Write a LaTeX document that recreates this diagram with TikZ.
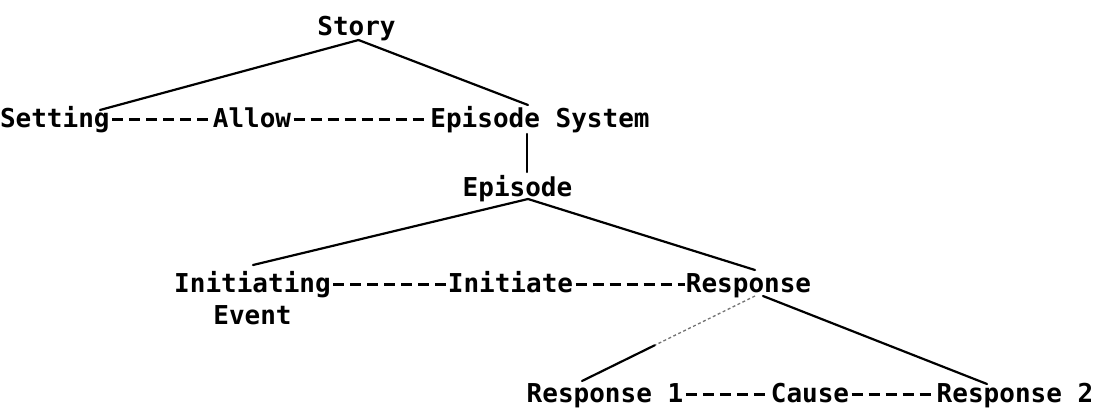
\documentclass[tikz,border=0pt]{standalone}
\usepackage{fontspec}
\newfontfamily\treefont{DejaVu Sans Mono}
\usetikzlibrary{calc}
\tikzset{
  word/.style={inner sep=0pt, outer sep=0pt, anchor=base,
    font=\treefont\bfseries\fontsize{26}{32}\selectfont},
  branch/.style={line width=2.2pt, line cap=round},
  worn/.style={line width=1.3pt, black!55, dash pattern=on 3pt off 2.5pt},
  relation/.style={line width=3pt, dash pattern=on 11pt off 6pt},
}
\begin{document}
\begin{tikzpicture}[x=1pt,y=-1pt]
\useasboundingbox (0,0) rectangle (1095,410);

% story grammar nodes
\node[word] (story)    at (356.5,35)  {Story};
\node[word, anchor=base west] (setting) at (0,127) {Setting};
\node[word] (allow)    at (252,127)   {Allow};
\node[word] (epsys)    at (540,127)   {Episode System};
\node[word] (episode)  at (517.5,196) {Episode};
\node[word] (initing)  at (252.5,292) {Initiating};
\node[word] (event)    at (252.5,324) {Event};
\node[word] (initiate) at (510.5,292) {Initiate};
\node[word] (resp)     at (748.5,292) {Response};
\node[word] (respA)    at (605,402)   {Response 1};
\node[word] (cause)    at (810,402)   {Cause};
\node[word] (respB)    at (1015,402)  {Response 2};

% constituent branches
\draw[branch] ($(story.base)+(2,5)$) -- ($(setting.base west)+(100,-17)$);
\draw[branch] ($(story.base)+(2,5)$) -- ($(epsys.base)+(-12,-22)$);
\draw[branch] ($(epsys.base)+(-13,7)$) -- ($(episode.base)+(9.5,-24)$);
\draw[branch] ($(episode.base)+(10.5,3)$) -- ($(initing.base)+(0.5,-27)$);
\draw[branch] ($(episode.base)+(10.5,3)$) -- ($(resp.base)+(6.5,-22)$);
\coordinate (respfoot) at ($(resp.base)+(6.5,4)$);
\coordinate (respAtop) at ($(respA.base)+(-23,-21)$);
\draw[worn] (respfoot) -- ($(respfoot)!0.58!(respAtop)$);
\draw[branch] ($(respfoot)!0.58!(respAtop)$) -- (respAtop);
\draw[branch] ($(resp.base)+(14.5,4)$) -- ($(respB.base)+(-28,-18)$);

% semantic relations between siblings
\draw[relation] ($(setting.base east)+(2.5,-7.5)$) -- ($(allow.base west)+(-1,-7.5)$);
\draw[relation] ($(allow.base east)+(2.5,-7.5)$) -- ($(epsys.base west)+(-1,-7.5)$);
\draw[relation] ($(initing.base east)+(2.5,-7.5)$) -- ($(initiate.base west)+(-1,-7.5)$);
\draw[relation] ($(initiate.base east)+(2.5,-7.5)$) -- ($(resp.base west)+(-1,-7.5)$);
\draw[relation] ($(respA.base east)+(2.5,-7.5)$) -- ($(cause.base west)+(-1,-7.5)$);
\draw[relation] ($(cause.base east)+(2.5,-7.5)$) -- ($(respB.base west)+(-1,-7.5)$);
\end{tikzpicture}
\end{document}
